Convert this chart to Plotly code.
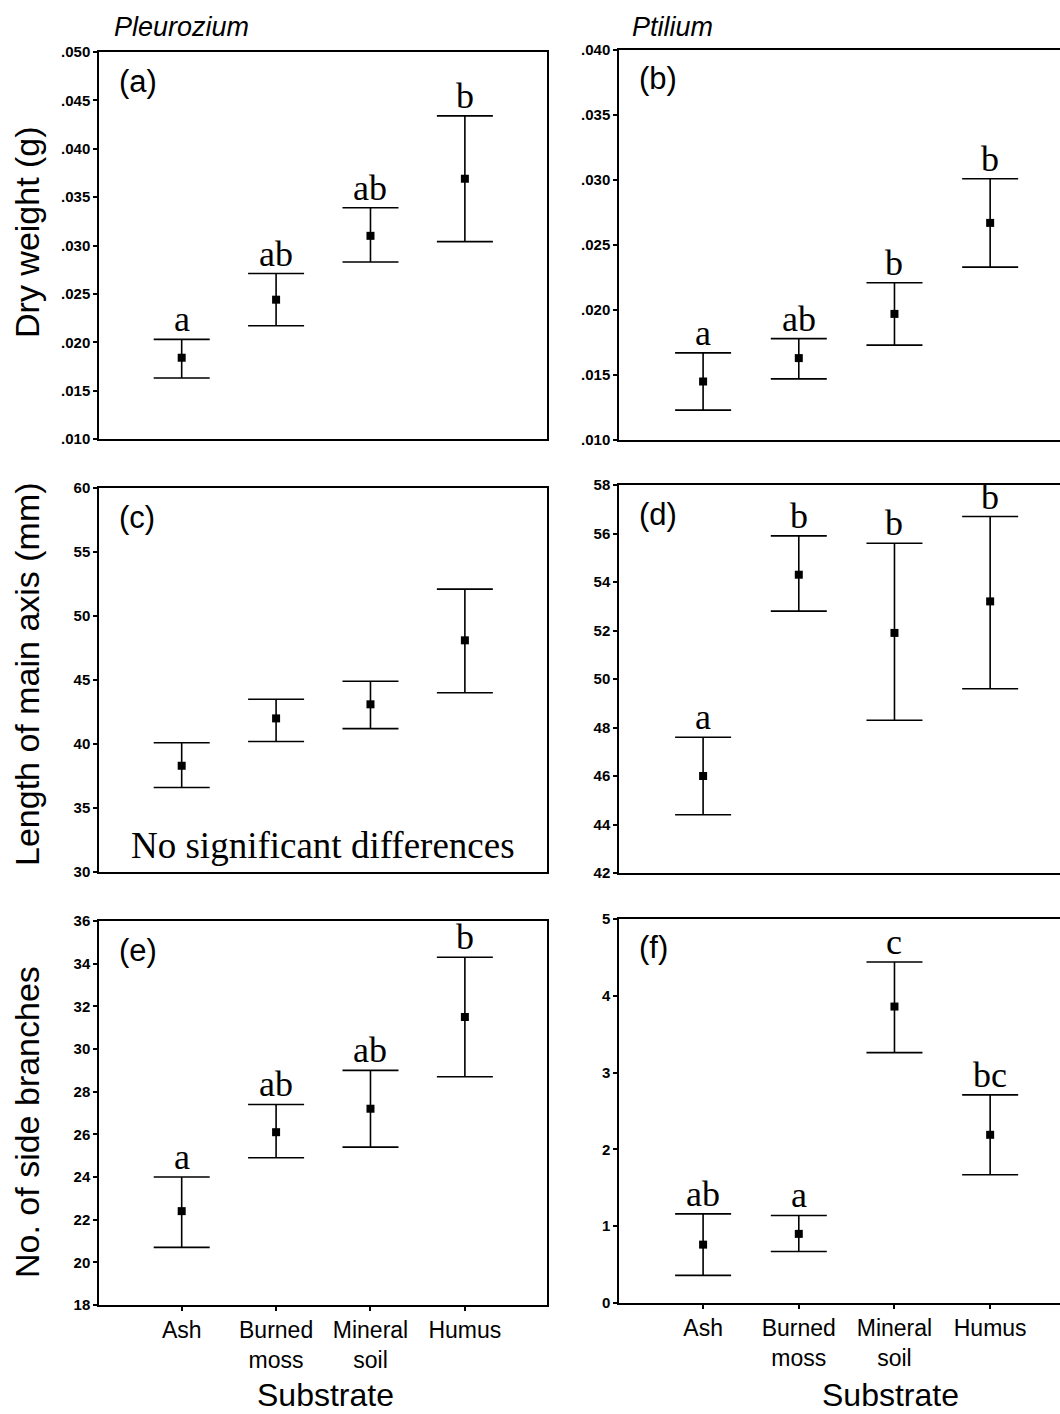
import plotly.graph_objects as go

W, H = 1060, 1414

categories = ["Ash", "Burned<br>moss", "Mineral<br>soil", "Humus"]

# (a) Pleurozium dry weight (g)
a_mean = [0.0184, 0.0244, 0.0310, 0.0369]
a_upper = [0.0203, 0.0271, 0.0339, 0.0434]
a_lower = [0.0163, 0.0217, 0.0283, 0.0304]
a_letters = ["a", "ab", "ab", "b"]
# (b) Ptilium dry weight (g)
b_mean = [0.0145, 0.0163, 0.0197, 0.0267]
b_upper = [0.0167, 0.0178, 0.0221, 0.0301]
b_lower = [0.0123, 0.0147, 0.0173, 0.0233]
b_letters = ["a", "ab", "b", "b"]
# (c) Pleurozium length of main axis (mm)
c_mean = [38.3, 42.0, 43.1, 48.1]
c_upper = [40.1, 43.5, 44.9, 52.1]
c_lower = [36.6, 40.2, 41.2, 44.0]
c_letters = ["", "", "", ""]
# (d) Ptilium length of main axis (mm)
d_mean = [46.0, 54.3, 51.9, 53.2]
d_upper = [47.6, 55.9, 55.6, 56.7]
d_lower = [44.4, 52.8, 48.3, 49.6]
d_letters = ["a", "b", "b", "b"]
# (e) Pleurozium no. of side branches
e_mean = [22.4, 26.1, 27.2, 31.5]
e_upper = [24.0, 27.4, 29.0, 34.3]
e_lower = [20.7, 24.9, 25.4, 28.7]
e_letters = ["a", "ab", "ab", "b"]
# (f) Ptilium no. of side branches
f_mean = [0.76, 0.90, 3.86, 2.19]
f_upper = [1.16, 1.14, 4.44, 2.71]
f_lower = [0.36, 0.67, 3.26, 1.67]
f_letters = ["ab", "a", "c", "bc"]

dw_left_ticks = [0.010, 0.015, 0.020, 0.025, 0.030, 0.035, 0.040, 0.045, 0.050]
dw_left_text = [".010", ".015", ".020", ".025", ".030", ".035", ".040", ".045", ".050"]
dw_right_ticks = [0.010, 0.015, 0.020, 0.025, 0.030, 0.035, 0.040]
dw_right_text = [".010", ".015", ".020", ".025", ".030", ".035", ".040"]
len_left_ticks = [30, 35, 40, 45, 50, 55, 60]
len_right_ticks = [42, 44, 46, 48, 50, 52, 54, 56, 58]
br_left_ticks = [18, 20, 22, 24, 26, 28, 30, 32, 34, 36]
br_right_ticks = [0, 1, 2, 3, 4, 5]

panel_labels = ["(a)", "(b)", "(c)", "(d)", "(e)", "(f)"]
species = ["Pleurozium", "Ptilium"]
y_titles = ["Dry weight (g)", "Length of main axis (mm)", "No. of side branches"]
x_title = "Substrate"
note_c = "No significant differences"

# panel pixel boxes: (x0, x1, y_top, y_bottom)
boxes = [
    (99, 547, 52, 439), (619, 1060, 50, 440),
    (99, 547, 488, 872), (619, 1060, 485, 873),
    (99, 547, 921, 1305), (619, 1060, 919, 1303),
]
y_title_centers = [232, 674, 1122]
panels = [
    (a_mean, a_upper, a_lower, a_letters, dw_left_ticks, dw_left_text),
    (b_mean, b_upper, b_lower, b_letters, dw_right_ticks, dw_right_text),
    (c_mean, c_upper, c_lower, c_letters, len_left_ticks, [str(v) for v in len_left_ticks]),
    (d_mean, d_upper, d_lower, d_letters, len_right_ticks, [str(v) for v in len_right_ticks]),
    (e_mean, e_upper, e_lower, e_letters, br_left_ticks, [str(v) for v in br_left_ticks]),
    (f_mean, f_upper, f_lower, f_letters, br_right_ticks, [str(v) for v in br_right_ticks]),
]

SANS = "Liberation Sans, Arial, sans-serif"
SERIF = "Liberation Serif, Times New Roman, serif"

fig = go.Figure()
layout = dict(
    width=W, height=H, margin=dict(l=0, r=0, t=0, b=0, autoexpand=False),
    paper_bgcolor="white", plot_bgcolor="white", showlegend=False,
)
annotations = []
xs = list(range(len(categories)))

for i, (box, p) in enumerate(zip(boxes, panels)):
    mean, up, lo, letters, tv, tt = p
    x0, x1, yt, yb = box
    left = (i % 2 == 0)
    bottom_row = i >= 4
    k = "" if i == 0 else str(i + 1)
    xa, ya = "x" + k, "y" + k
    fig.add_trace(go.Scatter(
        x=xs, y=mean, mode="markers", xaxis=xa, yaxis=ya,
        marker=dict(symbol="square", size=8, color="black"),
        error_y=dict(type="data", symmetric=False,
                     array=[u - m for u, m in zip(up, mean)],
                     arrayminus=[m - l for m, l in zip(mean, lo)],
                     color="black", thickness=1.6, width=28),
        cliponaxis=False, hoverinfo="skip",
    ))
    xr = [-0.876, 3.87] if left else [-0.879, 3.73]
    xaxis = dict(
        domain=[x0 / W, x1 / W], range=xr, anchor=ya,
        showline=True, linecolor="black", linewidth=1.5, mirror=True,
        showgrid=False, zeroline=False,
        tickmode="array", tickvals=xs,
        ticktext=categories if bottom_row else ["" for _ in categories],
        ticks="outside" if bottom_row else "", ticklen=4, tickwidth=2, tickcolor="black",
        tickfont=dict(family=SANS, size=23, color="black"),
        ticklabelstandoff=0,
    )
    yaxis = dict(
        domain=[1 - yb / H, 1 - yt / H], range=[tv[0], tv[-1]], anchor=xa,
        showline=True, linecolor="black", linewidth=1.5, mirror=left,
        showgrid=False, zeroline=False,
        tickmode="array", tickvals=tv, ticktext=["<b>" + t + "</b>" for t in tt],
        ticks="outside", ticklen=4, tickwidth=2, tickcolor="black",
        tickfont=dict(family=SANS, size=15, color="black"),
    )
    layout["xaxis" + k] = xaxis
    layout["yaxis" + k] = yaxis

    # panel label
    annotations.append(dict(
        text=panel_labels[i], xref="paper", yref="paper",
        x=(x0 + 18) / W, y=1 - (yt + 29) / H, xanchor="left", yanchor="middle",
        showarrow=False, font=dict(family=SANS, size=31, color="black"),
    ))
    # significance letters (white backing only where a letter crosses the frame)
    span = tv[-1] - tv[0]
    for xv, u, let in zip(xs, up, letters):
        if not let:
            continue
        near_top = (tv[-1] - u) / span < 0.06
        annotations.append(dict(
            text=let, xref=xa, yref=ya, x=xv, y=u, xanchor="center", yanchor="bottom",
            yshift=-1, showarrow=False,
            bgcolor="white" if near_top else "rgba(0,0,0,0)", borderpad=0,
            font=dict(family=SERIF, size=36, color="black"),
        ))

# note in panel (c)
annotations.append(dict(
    text=note_c, xref="x3", yref="paper", x=1.5, y=1 - 845 / H,
    xanchor="center", yanchor="middle", showarrow=False,
    font=dict(family=SERIF, size=37, color="black"),
))
# species titles
for s, xpx in zip(species, [112, 630]):
    annotations.append(dict(
        text="<i>" + s + "</i>", xref="paper", yref="paper", x=xpx / W, y=1 - 27 / H,
        xanchor="left", yanchor="middle", showarrow=False,
        font=dict(family=SANS, size=27, color="black"),
    ))
# y titles
for t, cy in zip(y_titles, y_title_centers):
    annotations.append(dict(
        text=t, xref="paper", yref="paper", x=27 / W, y=1 - cy / H,
        xanchor="center", yanchor="middle", textangle=-90, showarrow=False,
        font=dict(family=SANS, size=34, color="black"),
    ))
# x titles
for cx in [325, 890]:
    annotations.append(dict(
        text=x_title, xref="paper", yref="paper", x=cx / W, y=1 - 1395 / H,
        xanchor="center", yanchor="middle", showarrow=False,
        font=dict(family=SANS, size=32, color="black"),
    ))

layout["annotations"] = annotations
fig.update_layout(**layout)
fig.write_html("out.html", config={"displayModeBar": False},
               post_script="document.body.style.margin='0';")
